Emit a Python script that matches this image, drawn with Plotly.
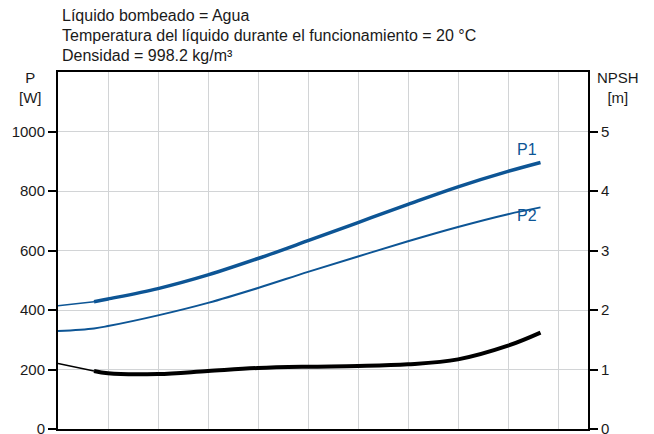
import plotly.graph_objects as go

# Data (x in grid units)
q = [0, 0.72, 1, 2, 3, 4, 5, 6, 7, 8, 9, 9.65]
p1 = [414, 428, 437, 472, 518, 573, 633, 694, 755, 814, 866, 896]
p2 = [329, 338, 346, 382, 424, 474, 528, 580, 631, 679, 722, 745]
npsh = [1.10, 0.975, 0.936, 0.924, 0.975, 1.025, 1.047, 1.058, 1.087, 1.17, 1.40, 1.62]

p_ticks = [0, 200, 400, 600, 800, 1000]
npsh_ticks = [0, 1, 2, 3, 4, 5]
header_lines = [
    "Líquido bombeado = Agua",
    "Temperatura del líquido durante el funcionamiento = 20 °C",
    "Densidad = 998.2 kg/m³",
]

BLUE = "#0d5595"
FONT = "Liberation Sans, Arial, sans-serif"

# page body adds an 8px offset; compensate
OFF = 8
L, T, PW, PH = 58 - OFF, 72 - OFF, 530, 357
W, H = 654 - OFF, 434 - OFF

fig = go.Figure()
fig.add_trace(go.Scatter(x=q[:2], y=p1[:2], mode="lines", line=dict(color=BLUE, width=1.5), hoverinfo="skip"))
fig.add_trace(go.Scatter(x=q[1:], y=p1[1:], mode="lines", line=dict(color=BLUE, width=3.5, shape="spline"), hoverinfo="skip"))
fig.add_trace(go.Scatter(x=q, y=p2, mode="lines", line=dict(color=BLUE, width=2, shape="spline"), hoverinfo="skip"))
fig.add_trace(go.Scatter(x=q[:2], y=npsh[:2], mode="lines", line=dict(color="black", width=1.5), yaxis="y2", hoverinfo="skip"))
fig.add_trace(go.Scatter(x=q[1:], y=npsh[1:], mode="lines", line=dict(color="black", width=4, shape="spline"), yaxis="y2", hoverinfo="skip"))


def py(ypix):
    return (429 - ypix) / PH


def px(xpix):
    return (xpix - 58) / PW


annotations = []
for i, t in enumerate(header_lines):
    annotations.append(dict(text=t, xref="paper", yref="paper", x=px(60), y=py(16 + 20 * i),
                            xanchor="left", yanchor="middle", showarrow=False,
                            font=dict(size=16, color="#1a1a1a", family=FONT)))
annotations.append(dict(text="P<br>[W]", xref="paper", yref="paper", x=px(30), y=py(88),
                        xanchor="center", yanchor="middle", showarrow=False,
                        font=dict(size=15, color="#1a1a1a", family=FONT)))
annotations.append(dict(text="NPSH<br>[m]", xref="paper", yref="paper", x=px(618), y=py(88),
                        xanchor="center", yanchor="middle", showarrow=False,
                        font=dict(size=15, color="#1a1a1a", family=FONT)))
annotations.append(dict(text="P1", x=9.38, y=941, xref="x", yref="y", showarrow=False,
                        font=dict(size=16, color=BLUE, family=FONT)))
annotations.append(dict(text="P2", x=9.38, y=716, xref="x", yref="y", showarrow=False,
                        font=dict(size=16, color=BLUE, family=FONT)))

fig.update_layout(
    width=W, height=H,
    margin=dict(l=L, r=W - L - PW, t=T, b=H - T - PH, autoexpand=False),
    paper_bgcolor="white", plot_bgcolor="white",
    showlegend=False,
    font=dict(family=FONT, size=15, color="#1a1a1a"),
    annotations=annotations,
    xaxis=dict(range=[0, 10.6], dtick=1, tick0=0, showgrid=True, gridcolor="#d2d4d6", gridwidth=1,
               showticklabels=False, ticks="", showline=True, linecolor="black", linewidth=2,
               mirror=True, zeroline=False, fixedrange=True),
    yaxis=dict(range=[0, 1200], tickvals=p_ticks, showgrid=True, gridcolor="#d2d4d6", gridwidth=1,
               ticks="outside", ticklen=8, tickwidth=2, tickcolor="black", ticklabeloverflow="allow",
               showline=True, linecolor="black", linewidth=2, zeroline=False,
               tickfont=dict(size=15, family=FONT, color="#1a1a1a")),
    yaxis2=dict(range=[0, 6], tickvals=npsh_ticks, overlaying="y", side="right", showgrid=False,
                ticks="outside", ticklen=8, tickwidth=2, tickcolor="black", ticklabeloverflow="allow",
                showline=True, linecolor="black", linewidth=2, zeroline=False,
                tickfont=dict(size=15, family=FONT, color="#1a1a1a")),
)

fig.write_html("out.html")
